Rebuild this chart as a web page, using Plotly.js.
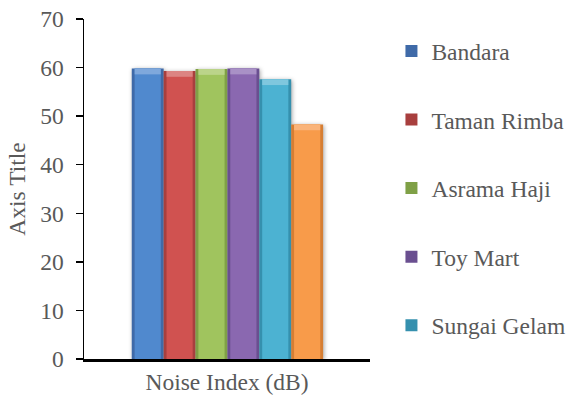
<!DOCTYPE html>
<html>
<head>
<meta charset="utf-8">
<script src="https://cdn.plot.ly/plotly-3.0.1.min.js"></script>
<style>
  html, body { margin: 0; padding: 0; background: #fff; }
  #chart { width: 567px; height: 399px; }
  .barlayer { filter: drop-shadow(1px 1px 2px rgba(0,0,0,0.35)); }
</style>
</head>
<body>
<div id="chart"></div>
<script>
// Noise index measured at each location (dB)
const category = ['Noise Index (dB)'];
const locations = ['Bandara', 'Taman Rimba', 'Asrama Haji', 'Toy Mart', 'Sungai Gelam', 'Lokasi 6'];
const noiseValues = [59.8, 59.3, 59.7, 59.8, 57.6, 48.3];
const yTicks = [0, 10, 20, 30, 40, 50, 60, 70];

// Bar shading: darker edge, main face, lighter bevelled top
const edgeColors = ['#3F6AA8', '#A83F3E', '#7FA046', '#6A4F90', '#3590AE', '#D67E33'];
const faceColors = ['#5089CE', '#D05250', '#A0C45E', '#8A68B0', '#4CB2D2', '#F89B4A'];
const capColors  = ['#7FA8DC', '#DC8482', '#BBD48A', '#A991C6', '#7FC7DE', '#FAB47A'];
const legendShown = [true, true, true, true, true, false];

const slotWidth = 0.1115;  // one bar, in category units
const groupStart = -0.333; // left edge of the cluster
const insetFrac = 0.18;    // face inset as a fraction of bar width
const capDepth = 1.2;      // depth of the bevelled top, in axis units

const traces = [];
locations.forEach((name, i) => {
  const off = groupStart + i * slotWidth;
  const v = noiseValues[i];
  // outer body (edge colour)
  traces.push({
    type: 'bar', x: category, y: [v], name: name,
    offset: off, width: slotWidth,
    marker: { color: edgeColors[i], line: { width: 0 } },
    legendgroup: 'g' + i, showlegend: legendShown[i],
    hoverinfo: 'name+y'
  });
  // inner face
  traces.push({
    type: 'bar', x: category, y: [v], name: name,
    offset: off + slotWidth * insetFrac / 2, width: slotWidth * (1 - insetFrac),
    marker: { color: faceColors[i], line: { width: 0 } },
    legendgroup: 'g' + i, showlegend: false,
    hoverinfo: 'skip'
  });
  // bevelled top
  traces.push({
    type: 'bar', x: category, y: [capDepth], base: [v - capDepth], name: name,
    offset: off + slotWidth * insetFrac / 2, width: slotWidth * (1 - insetFrac),
    marker: { color: capColors[i], line: { width: 0 } },
    legendgroup: 'g' + i, showlegend: false,
    hoverinfo: 'skip'
  });
});

const font = { family: 'Liberation Serif, Times New Roman, serif', size: 23.5, color: '#595959' };

const layout = {
  width: 567, height: 399,
  margin: { l: 84, r: 197, t: 19, b: 40, pad: 0, autoexpand: false },
  paper_bgcolor: '#fff', plot_bgcolor: '#fff',
  font: font,
  barmode: 'overlay',
  showlegend: true,
  legend: {
    x: 1.075, xanchor: 'left', y: 0.97, yanchor: 'top',
    font: font, traceorder: 'grouped', tracegroupgap: 35,
    bgcolor: 'rgba(0,0,0,0)', itemwidth: 30, maxheight: 390
  },
  xaxis: {
    type: 'category', range: [-0.5, 0.5],
    showline: true, linecolor: '#000', linewidth: 2.5,
    ticks: '', showgrid: false, zeroline: false,
    tickfont: font, fixedrange: true
  },
  yaxis: {
    range: [0, 70], tickvals: yTicks, ticktext: yTicks.map(String),
    showline: true, linecolor: '#000', linewidth: 1.5,
    ticks: 'outside', ticklen: 7, tickwidth: 1.5, tickcolor: '#000',
    ticklabelstandoff: 7,
    showgrid: false, zeroline: false,
    tickfont: font, fixedrange: true,
    title: { text: 'Axis Title', font: font, standoff: 8 }
  }
};

Plotly.newPlot('chart', traces, layout, { displayModeBar: false, staticPlot: true });
</script>
</body>
</html>
